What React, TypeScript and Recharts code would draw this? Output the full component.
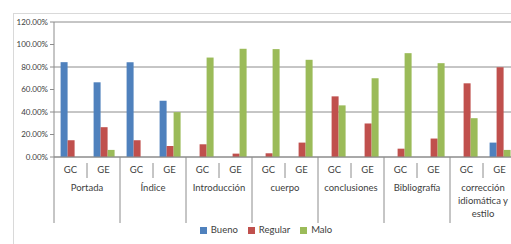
import { Bar, BarChart, CartesianGrid, Legend, XAxis, YAxis } from "recharts";

const groups = [
  "Portada",
  "Índice",
  "Introducción",
  "cuerpo",
  "conclusiones",
  "Bibliografía",
  "corrección idiomática y estilo",
];
const subGroups = ["GC", "GE"];
const seriesNames = ["Bueno", "Regular", "Malo"];

// one value per GC/GE column, in group order
const bueno = [84.3, 66.4, 84.3, 50, 0, 0, 0, 0, 0, 0, 0, 0, 0, 12.8];
const regular = [14.9, 26.5, 14.9, 9.8, 11.3, 3, 3.3, 12.8, 53.9, 29.8, 7.4, 16.4, 65.5, 79.8];
const malo = [0, 6.3, 0, 39.9, 88.4, 96.2, 95.9, 86.4, 45.9, 70, 92.3, 83.4, 34.5, 6.3];

const yTicks = [0, 20, 40, 60, 80, 100, 120];

const data = groups.flatMap((group, gi) =>
  subGroups.map((sub, si) => {
    const i = gi * subGroups.length + si;
    return { group, sub, bueno: bueno[i], regular: regular[i], malo: malo[i] };
  }),
);

const textColor = "#404040";
const lineColor = "#8c8c8c";
const font = "Lato, 'Open Sans', sans-serif";

function wrapLabel(label: string, max = 12) {
  const lines: string[] = [];
  let current = "";
  for (const word of label.split(" ")) {
    const next = current ? current + " " + word : word;
    if (next.length > max && current) {
      lines.push(current);
      current = word;
    } else {
      current = next;
    }
  }
  if (current) lines.push(current);
  return lines;
}

function CategoryTick(props: any) {
  const { x, y, payload, index, width, visibleTicksCount } = props;
  const band = width / visibleTicksCount;
  const left = x - band / 2;
  const isFirst = index % subGroups.length === 0;
  const isLast = index === visibleTicksCount - 1;
  const groupLines = isFirst ? wrapLabel(data[index].group) : [];

  return (
    <g>
      <text x={x} y={y + 16} textAnchor="middle" fill={textColor} fontSize={9.5} fontFamily={font}>
        {payload.value}
      </text>
      {isFirst ? (
        <line x1={left} x2={left} y1={y} y2={y + 66} stroke={lineColor} />
      ) : (
        <line x1={left} x2={left} y1={y + 6} y2={y + 21} stroke={lineColor} />
      )}
      {isLast && <line x1={x + band / 2} x2={x + band / 2} y1={y} y2={y + 66} stroke={lineColor} />}
      {groupLines.map((line, li) => (
        <text
          key={line}
          x={x + band / 2}
          y={y + 34 + li * 13}
          textAnchor="middle"
          fill={textColor}
          fontSize={9.5}
          fontFamily={font}
        >
          {line}
        </text>
      ))}
    </g>
  );
}

export default function App() {
  return (
    <div
      style={{
        position: "absolute",
        left: 0,
        top: 0,
        width: 511,
        height: 244,
        overflow: "hidden",
        background: "#ffffff",
        fontFamily: font,
      }}
    >
      <div
        style={{
          position: "absolute",
          left: 13,
          top: 13,
          width: 600,
          height: 300,
          border: "1px solid #d9d9d9",
        }}
      />
      <div style={{ position: "absolute", left: 0, top: 0 }}>
        <BarChart
          width={526}
          height={244}
          data={data}
          margin={{ top: 22, right: 10, left: 0, bottom: 7 }}
          barCategoryGap="20%"
          barGap={0}
        >
          <CartesianGrid vertical={false} stroke={lineColor} />
          <XAxis
            dataKey="sub"
            interval={0}
            height={66}
            tickSize={0}
            tickMargin={0}
            axisLine={{ stroke: lineColor }}
            tickLine={false}
            tick={<CategoryTick />}
          />
          <YAxis
            width={54}
            domain={[0, 120]}
            ticks={yTicks}
            tickSize={4}
            tickMargin={2}
            axisLine={{ stroke: lineColor }}
            tickLine={{ stroke: lineColor }}
            tick={{ fill: textColor, fontSize: 8, fontFamily: font }}
            tickFormatter={(v: number) => v.toFixed(2) + "%"}
          />
          <Legend
            verticalAlign="bottom"
            iconType="square"
            iconSize={7}
            itemSorter={(item: any) => seriesNames.indexOf(item.value)}
            wrapperStyle={{ fontSize: 9.5, lineHeight: "14px", height: 14, left: 13 }}
            formatter={(value: string) => <span style={{ color: textColor }}>{value}</span>}
          />
          <Bar dataKey="bueno" name="Bueno" fill="#4f81bd" isAnimationActive={false} />
          <Bar dataKey="regular" name="Regular" fill="#c0504d" isAnimationActive={false} />
          <Bar dataKey="malo" name="Malo" fill="#9bbb59" isAnimationActive={false} />
        </BarChart>
      </div>
    </div>
  );
}
